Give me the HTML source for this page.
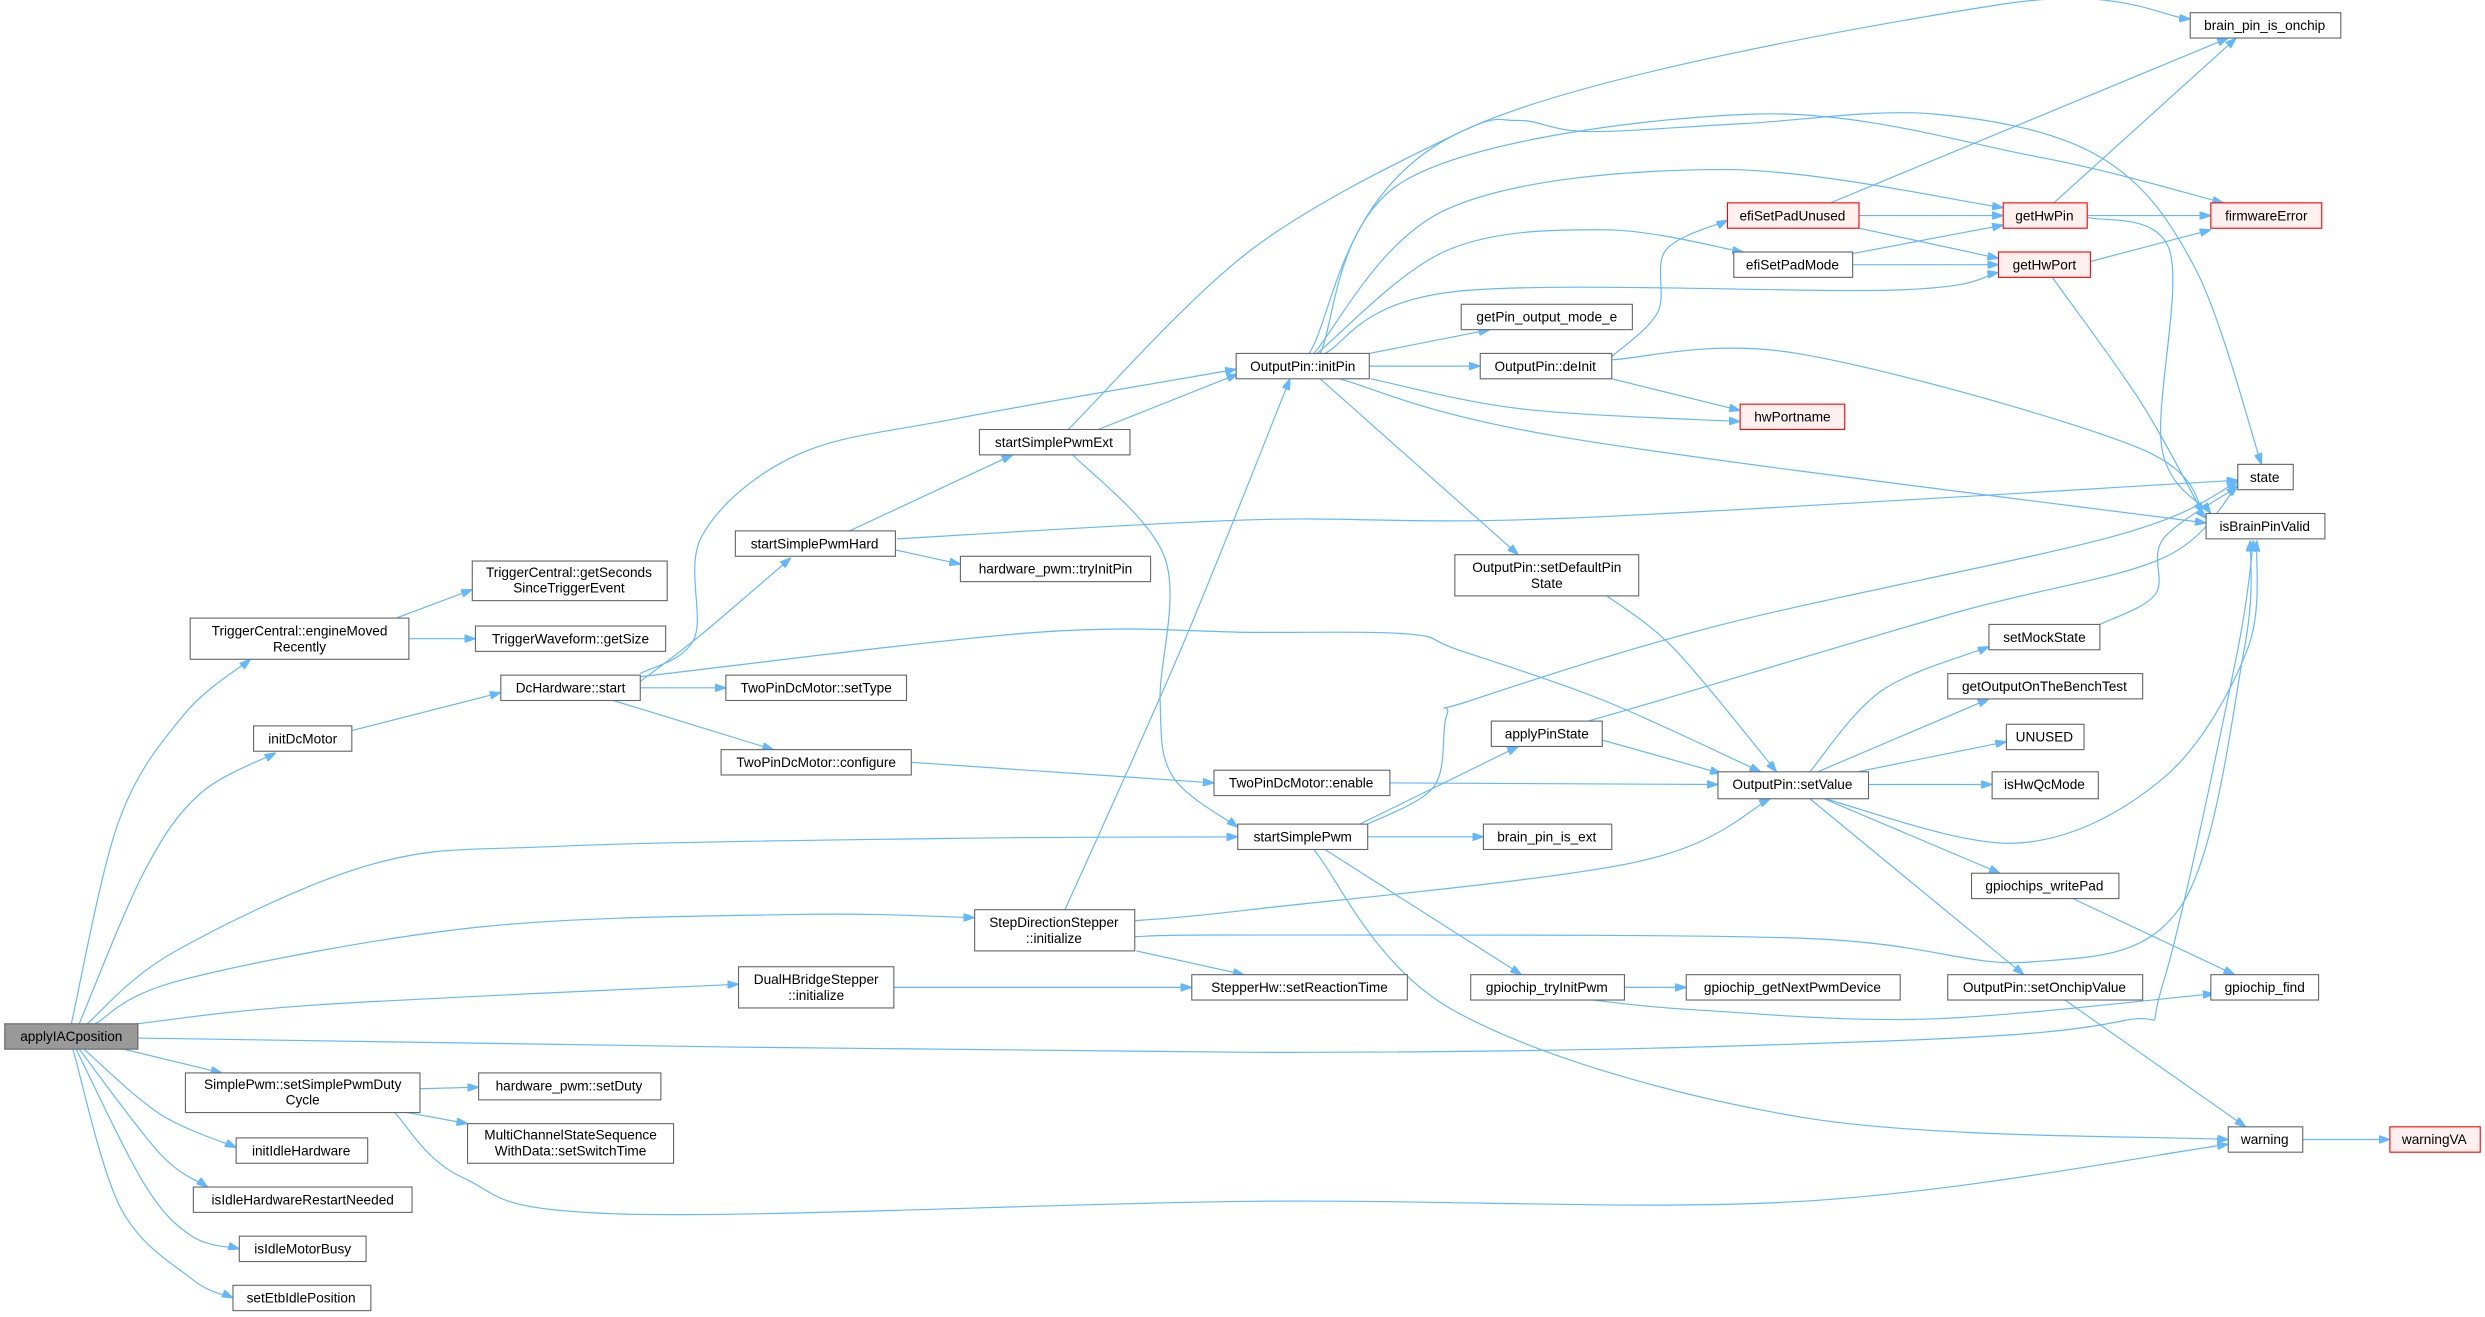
<!DOCTYPE html>
<html><head><meta charset="utf-8"><style>
html,body{margin:0;padding:0;background:#fff;}
svg{display:block}
.n{fill:#fff;stroke:#666;stroke-width:0.7}
.r{fill:#fff0f0;stroke:#f00;stroke-width:0.7}
.h{fill:#999;stroke:#666;stroke-width:0.7}
text{font-family:"Liberation Sans",sans-serif;font-size:8.6px;fill:#000;text-anchor:middle}
.e{fill:none;stroke:#63b8ff;stroke-width:0.75}
</style></head><body>
<svg id="g" xmlns="http://www.w3.org/2000/svg" width="2485" height="1317" viewBox="0 0 1568 831">
<defs><marker id="a" viewBox="0 0 10 7" refX="10" refY="3.5" markerUnits="userSpaceOnUse" markerWidth="7" markerHeight="5" orient="auto"><path d="M0,0L10,3.5L0,7z" fill="#63b8ff" stroke="#63b8ff"/></marker></defs>
<g id="edges"></g>
<g id="nodes">
<rect class="h" x="3" y="646" width="84" height="16"/><text x="45" y="657">applyIACposition</text>
<rect class="n" x="120" y="390" width="138" height="26"/><text x="189" y="401">TriggerCentral::engineMoved</text><text x="189" y="411">Recently</text>
<rect class="n" x="298" y="354" width="123" height="25"/><text x="359" y="364">TriggerCentral::getSeconds</text><text x="359" y="374">SinceTriggerEvent</text>
<rect class="n" x="300" y="395" width="120" height="16"/><text x="360" y="406">TriggerWaveform::getSize</text>
<rect class="n" x="160" y="458" width="62" height="16"/><text x="191" y="469">initDcMotor</text>
<rect class="n" x="316" y="426" width="88" height="16"/><text x="360" y="437">DcHardware::start</text>
<rect class="n" x="464" y="335" width="101" height="16"/><text x="514" y="346">startSimplePwmHard</text>
<rect class="n" x="618" y="271" width="95" height="16"/><text x="665" y="282">startSimplePwmExt</text>
<rect class="n" x="606" y="351" width="120" height="16"/><text x="666" y="362">hardware_pwm::tryInitPin</text>
<rect class="n" x="458" y="426" width="114" height="16"/><text x="515" y="437">TwoPinDcMotor::setType</text>
<rect class="n" x="455" y="473" width="120" height="16"/><text x="515" y="484">TwoPinDcMotor::configure</text>
<rect class="n" x="780" y="223" width="84" height="16"/><text x="822" y="234">OutputPin::initPin</text>
<rect class="n" x="922" y="192" width="108" height="16"/><text x="976" y="203">getPin_output_mode_e</text>
<rect class="n" x="934" y="223" width="83" height="16"/><text x="975" y="234">OutputPin::deInit</text>
<rect class="r" x="1090" y="128" width="83" height="16"/><text x="1131" y="139">efiSetPadUnused</text>
<rect class="n" x="1094" y="159" width="75" height="16"/><text x="1131" y="170">efiSetPadMode</text>
<rect class="r" x="1264" y="128" width="53" height="16"/><text x="1290" y="139">getHwPin</text>
<rect class="r" x="1261" y="159" width="58" height="16"/><text x="1290" y="170">getHwPort</text>
<rect class="r" x="1395" y="128" width="70" height="16"/><text x="1430" y="139">firmwareError</text>
<rect class="n" x="1382" y="8" width="95" height="16"/><text x="1429" y="19">brain_pin_is_onchip</text>
<rect class="r" x="1098" y="255" width="66" height="16"/><text x="1131" y="266">hwPortname</text>
<rect class="n" x="1412" y="293" width="35" height="16"/><text x="1429" y="304">state</text>
<rect class="n" x="1392" y="324" width="75" height="16"/><text x="1429" y="335">isBrainPinValid</text>
<rect class="n" x="918" y="350" width="116" height="26"/><text x="976" y="361">OutputPin::setDefaultPin</text><text x="976" y="371">State</text>
<rect class="n" x="1255" y="394" width="70" height="16"/><text x="1290" y="405">setMockState</text>
<rect class="n" x="1229" y="425" width="123" height="16"/><text x="1290" y="436">getOutputOnTheBenchTest</text>
<rect class="n" x="1266" y="457" width="49" height="16"/><text x="1290" y="468">UNUSED</text>
<rect class="n" x="1257" y="487" width="67" height="17"/><text x="1290" y="498">isHwQcMode</text>
<rect class="n" x="1084" y="487" width="95" height="17"/><text x="1131" y="498">OutputPin::setValue</text>
<rect class="n" x="941" y="455" width="70" height="16"/><text x="976" y="466">applyPinState</text>
<rect class="n" x="766" y="486" width="111" height="16"/><text x="821" y="497">TwoPinDcMotor::enable</text>
<rect class="n" x="781" y="520" width="82" height="16"/><text x="822" y="531">startSimplePwm</text>
<rect class="n" x="936" y="520" width="81" height="16"/><text x="976" y="531">brain_pin_is_ext</text>
<rect class="n" x="1244" y="551" width="93" height="16"/><text x="1290" y="562">gpiochips_writePad</text>
<rect class="n" x="752" y="615" width="136" height="16"/><text x="820" y="626">StepperHw::setReactionTime</text>
<rect class="n" x="928" y="615" width="97" height="16"/><text x="976" y="626">gpiochip_tryInitPwm</text>
<rect class="n" x="1064" y="615" width="135" height="16"/><text x="1131" y="626">gpiochip_getNextPwmDevice</text>
<rect class="n" x="1229" y="615" width="123" height="16"/><text x="1290" y="626">OutputPin::setOnchipValue</text>
<rect class="n" x="1395" y="615" width="68" height="16"/><text x="1429" y="626">gpiochip_find</text>
<rect class="n" x="1406" y="711" width="47" height="16"/><text x="1429" y="722">warning</text>
<rect class="r" x="1508" y="711" width="57" height="16"/><text x="1536" y="722">warningVA</text>
<rect class="n" x="615" y="574" width="101" height="26"/><text x="665" y="585">StepDirectionStepper</text><text x="665" y="595">::initialize</text>
<rect class="n" x="466" y="610" width="98" height="26"/><text x="515" y="621">DualHBridgeStepper</text><text x="515" y="631">::initialize</text>
<rect class="n" x="117" y="677" width="148" height="25"/><text x="191" y="687">SimplePwm::setSimplePwmDuty</text><text x="191" y="697">Cycle</text>
<rect class="n" x="302" y="677" width="115" height="17"/><text x="359" y="688">hardware_pwm::setDuty</text>
<rect class="n" x="295" y="709" width="130" height="25"/><text x="360" y="719">MultiChannelStateSequence</text><text x="360" y="729">WithData::setSwitchTime</text>
<rect class="n" x="149" y="718" width="83" height="16"/><text x="190" y="729">initIdleHardware</text>
<rect class="n" x="122" y="749" width="138" height="16"/><text x="191" y="760">isIdleHardwareRestartNeeded</text>
<rect class="n" x="151" y="780" width="80" height="16"/><text x="191" y="791">isIdleMotorBusy</text>
<rect class="n" x="147" y="811" width="87" height="16"/><text x="190" y="822">setEtbIdlePosition</text>
</g>
</svg>
<script>
var E=[
[[45,646],[75,518],[116,451],[158,416]],
[[50,646],[91,550],[126,501],[174,475]],
[[55,646],[111,600],[236,545],[352,534],[600,529],[781,528]],
[[60,646],[116,618],[302,585],[503,577],[615,579]],
[[86,646],[201,634],[466,621]],
[[87,655],[789,664],[1186,657],[1340,644],[1365,620],[1410,420],[1422,341]],
[[78,662],[140,677]],
[[53,662],[101,703],[149,724]],
[[50,662],[101,728],[131,749]],
[[48,662],[91,747],[121,780],[151,788]],
[[46,662],[76,762],[121,807],[147,819]],
[[250,390],[298,372]],
[[258,403],[300,403]],
[[222,461],[316,437]],
[[404,425],[438,403],[443,338],[503,287],[604,264],[780,233]],
[[404,430],[443,400],[499,352]],
[[404,434],[458,434]],
[[387,442],[488,473]],
[[404,427],[654,399],[789,399],[888,400],[920,410],[1012,442],[1111,487]],
[[536,335],[639,287]],
[[565,347],[606,356]],
[[566,340],[789,328],[988,327],[1412,303]],
[[693,271],[781,236]],
[[674,271],[789,158],[918,85],[958,76],[1002,83],[1100,78],[1221,72],[1325,99],[1385,169],[1427,293]],
[[677,287],[735,352],[732,442],[740,490],[781,522]],
[[826,223],[918,85],[1261,3],[1382,12]],
[[833,223],[888,113],[1106,72],[1286,99],[1403,128]],
[[829,223],[913,132],[1087,107],[1264,131]],
[[831,223],[913,158],[1013,145],[1100,159]],
[[836,223],[918,184],[1196,183],[1261,172]],
[[864,223],[940,208]],
[[864,231],[934,231]],
[[865,239],[960,258],[1098,266]],
[[845,239],[987,276],[1392,330]],
[[833,239],[958,350]],
[[1017,225],[1046,197],[1051,158],[1090,139]],
[[1017,239],[1098,259]],
[[1017,227],[1134,223],[1348,282],[1392,327]],
[[1173,136],[1264,136]],
[[1173,144],[1261,163]],
[[1155,128],[1406,24]],
[[1169,160],[1264,142]],
[[1169,167],[1261,167]],
[[1296,128],[1411,24]],
[[1317,136],[1395,136]],
[[1317,137],[1369,158],[1364,282],[1395,324]],
[[1319,165],[1395,145]],
[[1295,175],[1351,254],[1390,324]],
[[1014,376],[1057,410],[1121,487]],
[[1011,467],[1086,488]],
[[1002,455],[1047,442],[1236,386],[1365,352],[1412,306]],
[[877,494],[1084,495]],
[[575,481],[766,494]],
[[858,520],[958,471]],
[[863,520],[905,496],[913,451],[928,442],[1087,394],[1335,338],[1412,304]],
[[863,528],[936,528]],
[[836,536],[960,615]],
[[829,536],[918,638],[1137,705],[1406,719]],
[[249,702],[292,743],[392,766],[789,758],[1137,758],[1406,722]],
[[672,574],[745,410],[814,239]],
[[716,581],[789,574],[1032,544],[1117,504]],
[[716,591],[789,590],[1137,592],[1281,607],[1376,572],[1416,410],[1420,341]],
[[717,600],[785,615]],
[[564,623],[752,623]],
[[1142,487],[1187,436],[1255,408]],
[[1147,487],[1255,441]],
[[1172,487],[1266,468]],
[[1179,495],[1257,495]],
[[1151,504],[1273,532],[1365,491],[1418,410],[1424,341]],
[[1151,504],[1262,551]],
[[1142,504],[1277,615]],
[[1308,567],[1410,615]],
[[1025,623],[1064,623]],
[[1005,631],[1067,637],[1216,643],[1397,627]],
[[1303,631],[1417,711]],
[[1453,719],[1508,719]],
[[1325,394],[1360,375],[1365,340],[1412,307]],
[[265,687],[302,686]],
[[257,702],[295,709]]
];
var g=document.getElementById('edges'),ns='http://www.w3.org/2000/svg';
E.forEach(function(p){
 var d='M'+p[0][0]+','+p[0][1];
 if(p.length==2){d+='L'+p[1][0]+','+p[1][1];}
 else for(var i=0;i<p.length-1;i++){
  var p0=p[i-1]||p[i],p1=p[i],p2=p[i+1],p3=p[i+2]||p2;
  var c1=[p1[0]+(p2[0]-p0[0])/6,p1[1]+(p2[1]-p0[1])/6];
  var c2=[p2[0]-(p3[0]-p1[0])/6,p2[1]-(p3[1]-p1[1])/6];
  d+='C'+c1[0].toFixed(1)+','+c1[1].toFixed(1)+' '+c2[0].toFixed(1)+','+c2[1].toFixed(1)+' '+p2[0]+','+p2[1];
 }
 var e=document.createElementNS(ns,'path');
 e.setAttribute('d',d);e.setAttribute('class','e');e.setAttribute('marker-end','url(#a)');
 g.appendChild(e);
});
</script>
</body></html>
